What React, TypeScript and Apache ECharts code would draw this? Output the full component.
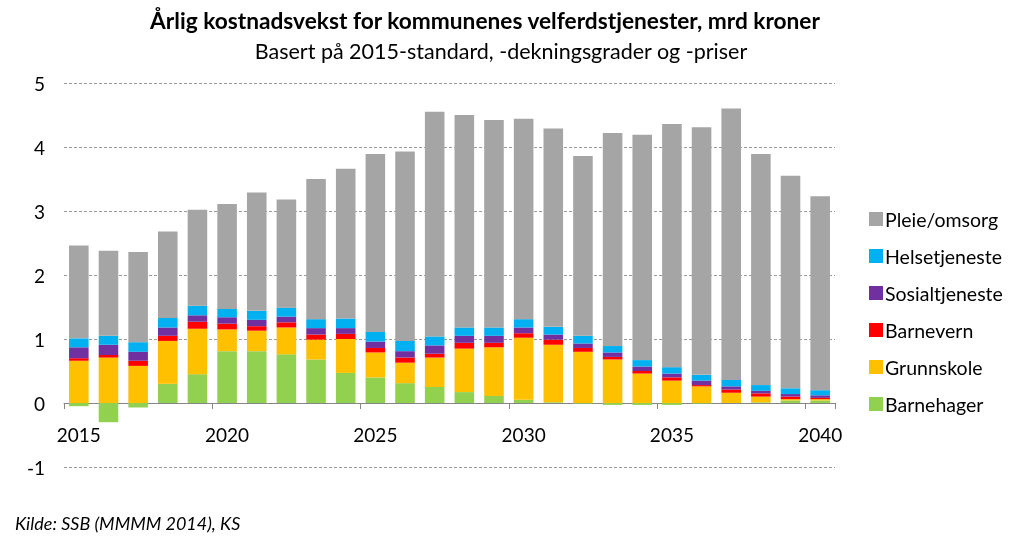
import React, { useEffect, useRef } from "react";
import * as echarts from "echarts";

const years = ["2015","2016","2017","2018","2019","2020","2021","2022","2023","2024","2025","2026","2027","2028","2029","2030","2031","2032","2033","2034","2035","2036","2037","2038","2039","2040"];

const barnehager = [-0.05,-0.30,-0.07,0.30,0.45,0.81,0.81,0.76,0.68,0.47,0.40,0.31,0.25,0.17,0.11,0.05,0.01,-0.01,-0.03,-0.03,-0.03,-0.01,0.00,0.01,0.04,0.04];
const grunnskole = [0.66,0.71,0.58,0.67,0.71,0.34,0.32,0.42,0.31,0.53,0.39,0.32,0.46,0.68,0.76,0.97,0.90,0.80,0.68,0.46,0.35,0.26,0.16,0.09,0.02,0.02];
const barnevern = [0.04,0.04,0.08,0.08,0.11,0.09,0.07,0.08,0.08,0.08,0.07,0.08,0.06,0.09,0.07,0.07,0.08,0.06,0.04,0.04,0.05,0.02,0.05,0.05,0.04,0.02];
const sosialtjeneste = [0.17,0.16,0.14,0.13,0.10,0.10,0.10,0.09,0.10,0.09,0.10,0.10,0.13,0.11,0.11,0.09,0.08,0.07,0.07,0.07,0.06,0.07,0.05,0.04,0.04,0.04];
const helsetjeneste = [0.14,0.14,0.15,0.15,0.15,0.13,0.14,0.14,0.14,0.15,0.15,0.16,0.14,0.13,0.13,0.13,0.12,0.12,0.10,0.10,0.10,0.09,0.10,0.09,0.09,0.08];
const pleieOmsorg = [1.45,1.33,1.41,1.35,1.50,1.64,1.85,1.69,2.19,2.34,2.78,2.96,3.51,3.32,3.24,3.13,3.10,2.81,3.33,3.52,3.80,3.87,4.24,3.61,3.32,3.03];

const seriesDefs = [
  { name: "Barnehager", data: barnehager, color: "#92D050" },
  { name: "Grunnskole", data: grunnskole, color: "#FFC000" },
  { name: "Barnevern", data: barnevern, color: "#FF0000" },
  { name: "Sosialtjeneste", data: sosialtjeneste, color: "#7030A0" },
  { name: "Helsetjeneste", data: helsetjeneste, color: "#00B0F0" },
  { name: "Pleie/omsorg", data: pleieOmsorg, color: "#A5A5A5" },
];

const FONT = "Lato";

export default function App() {
  const ref = useRef<HTMLDivElement>(null);
  useEffect(() => {
    if (!ref.current) return;
    const chart = echarts.init(ref.current, null, { renderer: "svg" });
    chart.setOption({
      animation: false,
      textStyle: { fontFamily: FONT },
      title: [
        {
          text: "Årlig kostnadsvekst for kommunenes velferdstjenester, mrd kroner",
          left: 480,
          textAlign: "center",
          top: 4,
          textStyle: { fontFamily: FONT, fontSize: 22.7, fontWeight: "bold", color: "#000" },
        },
        {
          text: "Basert på 2015-standard, -dekningsgrader og -priser",
          left: 496,
          textAlign: "center",
          top: 35,
          textStyle: { fontFamily: FONT, fontSize: 21.5, fontWeight: "normal", color: "#000" },
        },
        {
          text: "Kilde: SSB (MMMM 2014), KS",
          left: 10,
          top: 509,
          textStyle: { fontFamily: FONT, fontSize: 18, fontStyle: "italic", fontWeight: "normal", color: "#000" },
        },
      ],
      legend: {
        orient: "vertical",
        left: 864,
        top: 204,
        itemWidth: 14,
        itemHeight: 14,
        itemGap: 17,
        icon: "rect",
        data: seriesDefs.map((s) => s.name).reverse(),
        textStyle: { fontFamily: FONT, fontSize: 19.5, color: "#000", padding: [0, 0, 0, -3] },
      },
      grid: { left: 64, right: 189, top: 83, bottom: 74 },
      xAxis: {
        type: "category",
        data: years,
        position: "bottom",
        offset: -64,
        axisLine: { onZero: false, lineStyle: { color: "#868686" } },
        axisTick: { show: true, interval: 4, alignWithLabel: false, length: 6, lineStyle: { color: "#868686" } },
        axisLabel: { interval: 4, fontSize: 19, color: "#000", margin: 22, fontFamily: FONT },
      },
      yAxis: {
        type: "value",
        min: -1,
        max: 5,
        interval: 1,
        axisLine: { show: false },
        axisTick: { show: false },
        axisLabel: { fontSize: 19, color: "#000", margin: 19, fontFamily: FONT },
        splitLine: { lineStyle: { color: "#9a9a9a", type: [3, 2], width: 1 } },
      },
      series: seriesDefs.map((s) => ({
        name: s.name,
        type: "bar",
        stack: "total",
        data: s.data,
        barCategoryGap: "34%",
        itemStyle: { color: s.color },
      })),
    });
    return () => chart.dispose();
  }, []);
  return <div ref={ref} style={{ position: "fixed", left: 0, top: 0, width: 1024, height: 541 }} />;
}
